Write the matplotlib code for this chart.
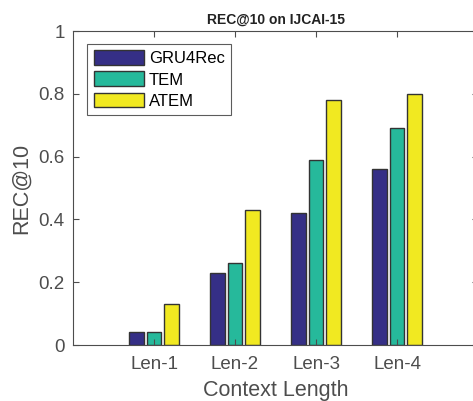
import numpy as np
import matplotlib.pyplot as plt

plt.rcParams['font.family'] = ['Liberation Sans', 'DejaVu Sans']

categories = ['Len-1', 'Len-2', 'Len-3', 'Len-4']
series = ['GRU4Rec', 'TEM', 'ATEM']
gru4rec = [0.04, 0.23, 0.42, 0.56]
tem = [0.04, 0.26, 0.59, 0.69]
atem = [0.13, 0.43, 0.78, 0.80]
colors = ['#352F86', '#26B99B', '#F1E921']

fig = plt.figure(figsize=(4.73, 4.01), dpi=100)
ax = fig.add_axes([73 / 473, (401 - 345) / 401, 405 / 473, 314 / 401])

x = np.arange(1, len(categories) + 1)
offs = [-0.222, 0, 0.222]
for vals, off, col, name in zip([gru4rec, tem, atem], offs, colors, series):
    ax.bar(x + off, vals, width=0.185, color=col, edgecolor='#333333',
           linewidth=1.0, label=name)

ax.set_xlim(0, 5)
ax.set_ylim(0, 1)
ax.set_xticks(x)
ax.set_xticklabels(categories)
ax.set_yticks([0, 0.2, 0.4, 0.6, 0.8, 1])
ax.set_yticklabels(['0', '0.2', '0.4', '0.6', '0.8', '1'])

grey = '#4D4D4D'
for s in ax.spines.values():
    s.set_color(grey)
    s.set_linewidth(0.8)
ax.tick_params(axis='both', colors=grey, labelsize=13.5, direction='in',
               length=4, width=0.8, top=True, right=True, pad=6)
ax.tick_params(axis='x', pad=8)

ax.set_xlabel('Context Length', fontsize=15.5, color=grey, labelpad=5)
ax.set_ylabel('REC@10', fontsize=15.5, color=grey, labelpad=5)
ax.set_title('REC@10 on IJCAI-15', fontsize=10, fontweight='bold',
             color='#222222', pad=5)

leg = ax.legend(loc='upper left', bbox_to_anchor=(0.035, 0.96), fontsize=12,
                frameon=True, fancybox=False, edgecolor='#333333',
                handlelength=3.0, handleheight=1.0, labelspacing=0.3,
                handletextpad=0.3, borderpad=0.4, borderaxespad=0)
leg.get_frame().set_linewidth(0.8)

fig.savefig('out.png', dpi=100)
